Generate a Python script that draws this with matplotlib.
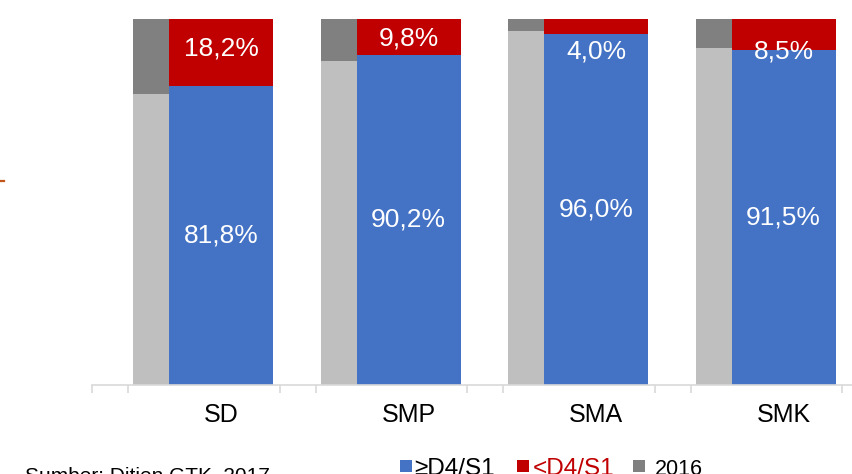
import matplotlib
matplotlib.use("Agg")
import matplotlib.pyplot as plt
from matplotlib.patches import Rectangle
from matplotlib.lines import Line2D

# ---------------- data ----------------
categories = ["SD", "SMP", "SMA", "SMK"]
above_d4 = [81.8, 90.2, 96.0, 91.5]          # >=D4/S1 (2017)
below_d4 = [18.2, 9.8, 4.0, 8.5]             # <D4/S1 (2017)
above_d4_2016 = [79.4, 88.5, 96.7, 92.0]     # 2016 share >=D4/S1 (light gray)
below_d4_2016 = [20.6, 11.5, 3.3, 8.0]       # 2016 share <D4/S1 (dark gray)
legend_labels = ["≥D4/S1", "<D4/S1", "2016"]
source_text = "Sumber: Ditjen GTK, 2017"

# ---------------- style / layout ----------------
FONT = ["Liberation Sans", "DejaVu Sans"]
plt.rcParams["font.family"] = FONT
BLUE = "#4472C4"
RED = "#C00000"
DGRAY = "#808080"
LGRAY = "#BFBFBF"
AXIS = "#D9D9D9"

W, H = 852, 474
fig = plt.figure(figsize=(W / 100, H / 100), dpi=100)

unit_px = 187.5
ax = fig.add_axes([92 / W, 89 / H, 4.2 * unit_px / W, 366 / H])
ax.set_xlim(0, 4.2)
ax.set_ylim(0, 100)

gray_off, gray_w = 0.219, 0.192
blue_off, blue_w = 0.411, 0.555
below_label_y = [92.0, 94.7, 91.0, 91.0]

xs = list(range(len(categories)))
gx = [x + gray_off for x in xs]
bx = [x + blue_off for x in xs]

ax.bar(gx, above_d4_2016, width=gray_w, align="edge", color=LGRAY, linewidth=0)
ax.bar(gx, below_d4_2016, width=gray_w, bottom=above_d4_2016, align="edge",
       color=DGRAY, linewidth=0)
ax.bar(bx, above_d4, width=blue_w, align="edge", color=BLUE, linewidth=0)
ax.bar(bx, below_d4, width=blue_w, bottom=above_d4, align="edge", color=RED, linewidth=0)

def fmt(v):
    return f"{v:.1f}%".replace(".", ",")

for i in xs:
    cx = bx[i] + blue_w / 2
    ax.text(cx, above_d4[i] / 2, fmt(above_d4[i]), ha="center", va="center",
            color="white", fontsize=19)
    ax.text(cx, below_label_y[i], fmt(below_d4[i]), ha="center", va="center",
            color="white", fontsize=19)

# axis styling
for s in ["top", "right", "left"]:
    ax.spines[s].set_visible(False)
ax.spines["bottom"].set_color(AXIS)
ax.spines["bottom"].set_linewidth(1.2)
ax.set_yticks([])
ticks = []
for i in range(5):
    ticks += [i, i + 0.192]
ax.set_xticks(ticks)
ax.set_xticklabels([])
ax.tick_params(axis="x", which="major", length=6, width=1.2, color=AXIS)
ax.set_xticks([b + blue_w / 2 for b in bx], minor=True)
ax.set_xticklabels(categories, minor=True, fontsize=18)
ax.tick_params(axis="x", which="minor", length=0, pad=13)

# small orange mark at left edge
fig.add_artist(Line2D([0, 4 / W], [1 - 181 / H, 1 - 181 / H], color="#C0561A",
                      linewidth=1.6, transform=fig.transFigure))

# legend (manual)
leg_items = [(400, BLUE, "black", 414, 17.5),
             (517, RED, RED, 533, 17.5),
             (633, DGRAY, "black", 655, 15.5)]
for (px, col, tcol, tx, fs), lab in zip(leg_items, legend_labels):
    fig.add_artist(Rectangle((px / W, 1 - 472 / H), 12 / W, 12 / H, color=col,
                             transform=fig.transFigure, linewidth=0))
    fig.text(tx / W, 1 - 475 / H, lab, color=tcol, fontsize=fs,
             ha="left", va="baseline")

fig.text(25 / W, 1 - 482 / H, source_text, fontsize=15, ha="left", va="baseline",
         color="black")

fig.savefig("out.png", dpi=100)
